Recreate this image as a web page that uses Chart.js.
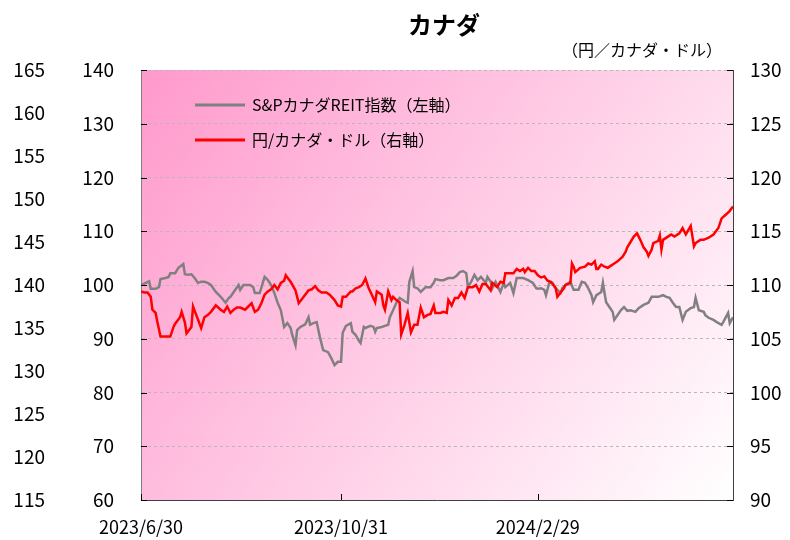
<!DOCTYPE html>
<html lang="ja">
<head>
<meta charset="UTF-8">
<title>カナダ</title>
<script src="https://cdn.jsdelivr.net/npm/chart.js@4.4.1/dist/chart.umd.min.js"></script>
<style>
  html, body { margin: 0; padding: 0; background: #fff; }
</style>
</head>
<body>
<canvas id="myChart" width="790" height="540"></canvas>
<script>
// 日付は 2023/6/30 からの経過日数
const tickDays = [0, 123, 244];
const tickLabels = ['2023/6/30', '2023/10/31', '2024/2/29'];

// S&PカナダREIT指数（左軸）
const greyDays = [
  0, 3, 5, 6, 9, 11, 12, 15, 17, 18,
  21, 23, 26, 27, 29, 31, 33, 35, 37, 39,
  41, 43, 46, 49, 52, 54, 55, 60, 61, 63,
  67, 69, 70, 73, 76, 78, 80, 82, 84, 86,
  88, 90, 92, 93, 95, 96, 98, 101, 103, 104,
  106, 108, 110, 112, 115, 117, 119, 121, 123, 124,
  126, 129, 130, 132, 134, 135, 137, 138, 141, 143,
  144, 145, 148, 150, 152, 153, 155, 157, 159, 161,
  163, 164, 165, 167, 168, 170, 172, 175, 178, 180,
  181, 184, 186, 189, 192, 194, 196, 198, 200, 201,
  203, 205, 207, 209, 212, 213, 215, 216, 218, 221,
  223, 224, 227, 229, 231, 235, 238, 241, 243, 244,
  246, 248, 249, 251, 253, 255, 258, 259, 261, 264,
  266, 269, 271, 273, 275, 277, 278, 280, 283, 284,
  285, 286, 288, 290, 291, 293, 295, 297, 299, 301,
  304, 306, 309, 312, 314, 315, 318, 321, 323, 325,
  327, 329, 331, 333, 335, 338, 340, 341, 343, 346,
  347, 349, 352, 354, 357, 358, 361, 362, 364
];
const greyValues = [
  100.0, 100.4, 100.7, 99.3, 99.3, 99.6, 101.1, 101.3, 101.5, 102.2,
  102.2, 103.2, 103.9, 102.0, 101.9, 102.0, 101.3, 100.4, 100.6, 100.6,
  100.4, 100.0, 98.7, 97.8, 96.7, 97.6, 97.8, 100.0, 99.1, 100.0,
  100.0, 99.6, 98.5, 98.5, 101.5, 100.9, 100.0, 98.5, 96.7, 95.3,
  92.2, 92.9, 92.0, 90.7, 88.8, 91.6, 92.2, 92.7, 94.0, 92.6,
  92.9, 93.1, 90.3, 87.9, 87.5, 86.4, 85.1, 85.7, 85.7, 91.1,
  92.4, 92.9, 91.3, 90.7, 89.6, 89.2, 92.2, 92.0, 92.4, 92.2,
  91.3, 92.0, 92.2, 92.4, 92.6, 94.0, 95.3, 96.7, 97.6, 97.2,
  96.8, 96.7, 100.6, 102.6, 99.6, 99.4, 98.7, 99.6, 99.6, 100.4,
  101.1, 100.9, 100.9, 101.3, 101.3, 101.7, 102.4, 102.6, 102.2, 99.6,
  100.6, 101.9, 100.9, 101.5, 100.4, 101.5, 100.6, 99.4, 100.6, 98.7,
  100.4, 99.6, 100.4, 98.5, 101.3, 101.3, 100.9, 100.4, 99.4, 99.3,
  99.4, 99.1, 98.1, 100.4, 100.4, 99.4, 98.5, 99.4, 100.0, 100.6,
  99.1, 99.1, 100.6, 100.4, 99.4, 98.1, 96.8, 98.1, 98.7, 100.4,
  98.5, 96.8, 95.9, 95.0, 93.5, 94.4, 95.3, 95.9, 95.2, 95.3,
  95.0, 95.7, 96.3, 96.7, 97.8, 97.8, 97.8, 98.1, 97.8, 97.6,
  96.7, 95.9, 95.9, 93.5, 95.0, 95.7, 95.9, 97.6, 95.3, 95.0,
  94.4, 93.9, 93.5, 93.1, 92.6, 93.1, 94.8, 92.9, 94.0
];

// 円/カナダ・ドル（右軸）
const redDays = [
  0, 2, 4, 6, 7, 9, 10, 12, 15, 18,
  20, 21, 24, 25, 27, 28, 31, 32, 34, 37,
  39, 41, 43, 46, 49, 51, 53, 55, 57, 59,
  61, 64, 66, 68, 70, 72, 74, 76, 78, 80,
  82, 84, 86, 88, 89, 90, 92, 95, 97, 100,
  103, 105, 107, 109, 111, 114, 116, 119, 121, 123,
  124, 126, 129, 130, 132, 134, 136, 138, 140, 141,
  144, 145, 148, 149, 150, 152, 154, 155, 157, 159,
  160, 162, 164, 166, 168, 170, 172, 174, 176, 178,
  180, 181, 184, 186, 188, 189, 191, 193, 195, 197,
  199, 201, 204, 206, 208, 210, 212, 215, 216, 219,
  221, 223, 224, 229, 231, 233, 235, 236, 238, 240,
  242, 244, 246, 248, 250, 252, 255, 256, 258, 260,
  261, 264, 265, 266, 267, 270, 273, 275, 277, 279,
  280, 281, 283, 285, 287, 289, 291, 293, 296, 298,
  299, 301, 303, 305, 307, 309, 311, 312, 314, 315,
  318, 319, 320, 321, 324, 326, 328, 331, 333, 335,
  338, 340, 341, 344, 346, 349, 352, 355, 357, 360,
  362, 364
];
const redValues = [
  109.4, 109.3, 109.3, 108.9, 107.7, 107.4, 106.6, 105.2, 105.2, 105.2,
  106.1, 106.4, 107.0, 107.5, 106.5, 105.5, 106.1, 108.0, 107.2, 106.0,
  107.0, 107.2, 107.5, 108.1, 107.7, 107.5, 108.0, 107.4, 107.7, 107.9,
  107.9, 107.7, 108.0, 108.3, 107.5, 107.7, 108.3, 109.1, 109.4, 109.6,
  110.0, 109.6, 110.2, 110.4, 110.9, 110.7, 110.3, 109.5, 108.3, 108.9,
  109.5, 109.6, 109.9, 109.5, 109.3, 109.3, 109.1, 108.6, 108.1, 108.0,
  108.9, 108.9, 109.4, 109.4, 109.7, 109.8, 110.0, 110.6, 109.7, 109.4,
  108.4, 109.4, 109.1, 108.1, 107.7, 109.4, 108.6, 108.9, 108.6, 108.4,
  105.4, 106.3, 107.4, 105.6, 106.3, 106.3, 107.9, 107.0, 107.2, 107.3,
  108.1, 107.4, 107.4, 107.5, 107.4, 108.6, 108.1, 108.8, 108.8, 109.3,
  108.8, 109.8, 109.8, 110.0, 109.4, 110.1, 110.1, 109.5, 110.2, 109.8,
  110.3, 110.2, 111.1, 111.1, 111.5, 111.3, 111.5, 111.2, 111.6, 111.3,
  111.3, 110.9, 110.7, 110.8, 110.4, 110.3, 109.7, 108.9, 109.3, 109.7,
  110.0, 110.2, 112.0, 111.7, 111.2, 111.6, 111.7, 112.0, 111.9, 112.2,
  111.5, 111.5, 111.9, 111.7, 111.6, 111.8, 112.0, 112.2, 112.6, 113.1,
  113.5, 114.0, 114.5, 114.8, 114.2, 113.5, 113.1, 112.7, 113.3, 113.9,
  114.1, 114.6, 113.3, 114.2, 114.5, 114.7, 114.5, 114.8, 115.3, 114.7,
  115.5, 113.6, 113.9, 114.2, 114.2, 114.4, 114.7, 115.3, 116.2, 116.6,
  116.9, 117.3
];

const FONT = '"Noto Sans CJK JP", "DejaVu Sans", sans-serif';
Chart.defaults.font.family = FONT;
Chart.defaults.color = '#000';

// 背景のグラデーション
const bgPlugin = {
  id: 'bgPlugin',
  beforeDraw(chart) {
    const { ctx, chartArea: a } = chart;
    const g = ctx.createLinearGradient(a.left, a.top, a.right, a.bottom);
    g.addColorStop(0, '#ff99cc');
    g.addColorStop(1, '#ffffff');
    ctx.save();
    ctx.fillStyle = g;
    ctx.fillRect(a.left, a.top, a.right - a.left, a.bottom - a.top);
    ctx.restore();
  }
};

// タイトル、凡例、内向きの目盛り
const decorPlugin = {
  id: 'decorPlugin',
  afterDraw(chart) {
    const { ctx, chartArea: a, scales } = chart;
    ctx.save();
    ctx.strokeStyle = '#000';
    ctx.lineWidth = 1;
    ctx.beginPath();
    scales.y.ticks.forEach(t => {
      const py = Math.round(scales.y.getPixelForValue(t.value)) + 0.5;
      ctx.moveTo(a.left, py);
      ctx.lineTo(a.left + 6, py);
    });
    scales.yRight.ticks.forEach(t => {
      const py = Math.round(scales.yRight.getPixelForValue(t.value)) + 0.5;
      ctx.moveTo(a.right - 6, py);
      ctx.lineTo(a.right, py);
    });
    tickDays.forEach(d => {
      const px = Math.round(scales.x.getPixelForValue(d)) + 0.5;
      ctx.moveTo(px, a.bottom);
      ctx.lineTo(px, a.bottom - 6);
    });
    ctx.stroke();

    // タイトル
    ctx.fillStyle = '#000';
    ctx.textBaseline = 'middle';
    ctx.textAlign = 'center';
    ctx.font = 'bold 24px ' + FONT;
    ctx.fillText('カナダ', 444, 25);
    ctx.textAlign = 'right';
    ctx.font = '16px ' + FONT;
    ctx.fillText('（円／カナダ・ドル）', 722, 50);

    // 凡例
    chart.data.datasets.forEach((ds, i) => {
      const ly = i === 0 ? 105 : 140;
      ctx.strokeStyle = ds.borderColor;
      ctx.lineWidth = 3;
      ctx.beginPath();
      ctx.moveTo(195, ly);
      ctx.lineTo(245, ly);
      ctx.stroke();
      ctx.textAlign = 'left';
      ctx.font = '16px ' + FONT;
      ctx.fillText(ds.label, 252, ly);
    });
    ctx.restore();
  }
};

const ctx = document.getElementById('myChart').getContext('2d');
const myChart = new Chart(ctx, {
  type: 'line',
  data: {
    datasets: [{
      label: 'S&PカナダREIT指数（左軸）',
      data: greyDays.map((d, i) => ({ x: d, y: greyValues[i] })),
      borderColor: '#808080',
      borderWidth: 2.5,
      pointRadius: 0,
      yAxisID: 'y',
      order: 2
    }, {
      label: '円/カナダ・ドル（右軸）',
      data: redDays.map((d, i) => ({ x: d, y: redValues[i] })),
      borderColor: '#ff0000',
      borderWidth: 2.5,
      pointRadius: 0,
      yAxisID: 'yRight',
      order: 1
    }]
  },
  options: {
    responsive: false,
    animation: false,
    layout: { padding: { top: 70, left: 0, right: 0, bottom: 0 } },
    plugins: {
      legend: { display: false },
      tooltip: { enabled: false },
      title: { display: false }
    },
    scales: {
      x: {
        type: 'linear',
        position: 'bottom',
        min: 0,
        max: 364,
        afterBuildTicks: s => { s.ticks = tickDays.map(v => ({ value: v })); },
        ticks: {
          autoSkip: false,
          maxRotation: 0,
          padding: 16,
          font: { size: 18 },
          callback: (v, i) => tickLabels[i]
        },
        grid: { display: false, drawTicks: false },
        border: { display: true, color: '#404040', width: 1 },
        afterFit: s => { s.height = 40; }
      },
      yOuter: {
        position: 'left',
        weight: 1,
        min: 115,
        max: 165,
        ticks: { stepSize: 5, padding: 5, font: { size: 19 } },
        grid: { display: false, drawTicks: false },
        border: { display: false },
        afterFit: s => { s.width = 50; }
      },
      y: {
        position: 'left',
        weight: 0,
        min: 60,
        max: 140,
        ticks: { stepSize: 10, padding: 27, font: { size: 19 } },
        grid: { color: '#b8b8b8', lineWidth: 1, drawTicks: false },
        border: { display: true, color: '#808080', width: 1, dash: [3, 3] },
        afterFit: s => { s.width = 91; }
      },
      yRight: {
        position: 'right',
        min: 90,
        max: 130,
        ticks: { stepSize: 5, padding: 17, font: { size: 19 } },
        grid: { display: false, drawTicks: false },
        border: { display: true, color: '#404040', width: 1 },
        afterFit: s => { s.width = 57; }
      }
    }
  },
  plugins: [bgPlugin, decorPlugin]
});
</script>
</body>
</html>
